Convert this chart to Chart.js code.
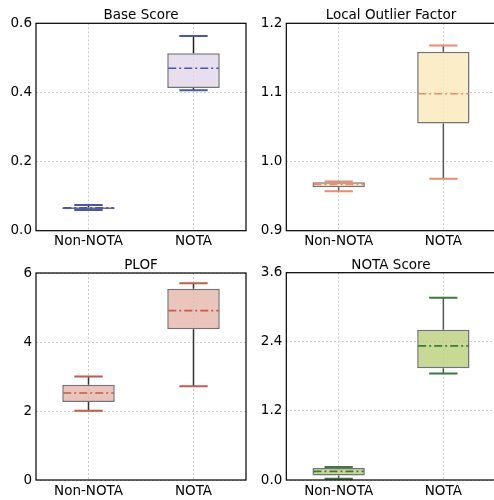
<!DOCTYPE html>
<html><head><meta charset="utf-8">
<script src="https://cdn.jsdelivr.net/npm/chart.js@4.4.0/dist/chart.umd.min.js"></script>
<style>
html,body{margin:0;padding:0;background:#fff;overflow:hidden;}
#wrap{position:relative;width:494px;height:500px;overflow:hidden;background:#fff;}
.cell{position:absolute;}
</style></head>
<body>
<div id="wrap">
  <div class="cell" style="left:0;top:0;"><canvas id="c0" width="247" height="250"></canvas></div>
  <div class="cell" style="left:247px;top:0;"><canvas id="c1" width="252" height="250"></canvas></div>
  <div class="cell" style="left:0;top:250px;"><canvas id="c2" width="247" height="250"></canvas></div>
  <div class="cell" style="left:247px;top:250px;"><canvas id="c3" width="252" height="250"></canvas></div>
</div>
<script>
// ---- data ----
const categories = ['Non-NOTA', 'NOTA'];
const titles = ['Base Score', 'Local Outlier Factor', 'PLOF', 'NOTA Score'];

// Base Score
const baseLow  = [0.060, 0.406];
const baseQ1   = [0.062, 0.413];
const baseMed  = [0.066, 0.470];
const baseQ3   = [0.068, 0.513];
const baseHigh = [0.074, 0.563];
const baseTicks = [0, 0.2, 0.4, 0.6];

// Local Outlier Factor
const lofLow  = [0.957, 0.975];
const lofQ1   = [0.963, 1.055];
const lofMed  = [0.967, 1.098];
const lofQ3   = [0.970, 1.159];
const lofHigh = [0.971, 1.168];
const lofTicks = [0.9, 1.0, 1.1, 1.2];

// PLOF
const plofLow  = [2.01, 2.72];
const plofQ1   = [2.26, 4.37];
const plofMed  = [2.52, 4.91];
const plofQ3   = [2.76, 5.54];
const plofHigh = [3.00, 5.70];
const plofTicks = [0, 2, 4, 6];

// NOTA Score
const notaLow  = [0.02, 1.85];
const notaQ1   = [0.08, 1.94];
const notaMed  = [0.15, 2.33];
const notaQ3   = [0.21, 2.61];
const notaHigh = [0.225, 3.166];
const notaTicks = [0.0, 1.2, 2.4, 3.6];

// ---- styling / layout ----
const FONT = {family: 'DejaVu Sans', size: 13.5};
const panels = [
  {id:'c0', title:titles[0], low:baseLow, q1:baseQ1, med:baseMed, q3:baseQ3, high:baseHigh, ticks:baseTicks, dec:1,
   fill:'rgba(225,215,234,0.8)', accent:'#4a57b0', whisk:'#222222', yW:36, xH:19.3, padR:1, padT:23.3},
  {id:'c1', title:titles[1], low:lofLow, q1:lofQ1, med:lofMed, q3:lofQ3, high:lofHigh, ticks:lofTicks, dec:1,
   fill:'rgba(249,232,186,0.8)', accent:'#ee8a6c', whisk:'#555555', yW:39.3, xH:19.3, padR:3.3, padT:23.3},
  {id:'c2', title:titles[2], low:plofLow, q1:plofQ1, med:plofMed, q3:plofQ3, high:plofHigh, ticks:plofTicks, dec:0,
   fill:'rgba(230,181,171,0.8)', accent:'#c85a4c', whisk:'#333333', yW:36, xH:20, padR:1, padT:23},
  {id:'c3', title:titles[3], low:notaLow, q1:notaQ1, med:notaMed, q3:notaQ3, high:notaHigh, ticks:notaTicks, dec:1,
   fill:'rgba(186,208,124,0.8)', accent:'#3f7a3c', whisk:'#555555', yW:39.3, xH:20, padR:3.3, padT:22.7}
];

const boxParts = {
  id: 'boxparts',
  afterDatasetsDraw(chart) {
    const o = chart.options.plugins.boxparts;
    const xs = chart.scales.x, ys = chart.scales.y, ctx = chart.ctx;
    const unit = xs.getPixelForValue(1) - xs.getPixelForValue(0);
    const half = unit * 0.25, capHalf = unit * 0.135;
    ctx.save();
    for (let i = 0; i < categories.length; i++) {
      const x = xs.getPixelForValue(i);
      const yl = ys.getPixelForValue(o.low[i]), yq1 = ys.getPixelForValue(o.q1[i]);
      const yq3 = ys.getPixelForValue(o.q3[i]), yh = ys.getPixelForValue(o.high[i]);
      const ym = ys.getPixelForValue(o.med[i]);
      ctx.strokeStyle = o.whisk; ctx.lineWidth = 1.5; ctx.setLineDash([]);
      ctx.beginPath(); ctx.moveTo(x, yq3); ctx.lineTo(x, yh); ctx.moveTo(x, yq1); ctx.lineTo(x, yl); ctx.stroke();
      ctx.strokeStyle = o.accent; ctx.lineWidth = 2;
      ctx.beginPath(); ctx.moveTo(x - capHalf, yh); ctx.lineTo(x + capHalf, yh);
      ctx.moveTo(x - capHalf, yl); ctx.lineTo(x + capHalf, yl); ctx.stroke();
      ctx.lineWidth = 1.6; ctx.setLineDash([8, 3, 2, 3]);
      ctx.beginPath(); ctx.moveTo(x - half + 1, ym); ctx.lineTo(x + half - 1, ym); ctx.stroke();
      ctx.setLineDash([]);
    }
    ctx.restore();
  }
};

const frameAndTitle = {
  id: 'frame',
  afterDraw(chart) {
    const a = chart.chartArea, ctx = chart.ctx;
    ctx.save(); ctx.strokeStyle = '#000'; ctx.lineWidth = 1.2; ctx.setLineDash([]);
    ctx.strokeRect(a.left, a.top, a.right - a.left, a.bottom - a.top);
    const t = chart.options.plugins.boxparts.title;
    ctx.fillStyle = '#000';
    ctx.font = FONT.size + 'px "' + FONT.family + '"';
    ctx.textAlign = 'center'; ctx.textBaseline = 'alphabetic';
    ctx.fillText(t, (a.left + a.right) / 2, a.top - 4);
    ctx.restore();
  }
};

panels.forEach(p => {
  const boxData = categories.map((c, i) => [p.q1[i], p.q3[i]]);
  new Chart(document.getElementById(p.id), {
    type: 'bar',
    data: {
      labels: categories,
      datasets: [{
        data: boxData,
        backgroundColor: p.fill,
        borderColor: 'rgba(90,90,90,0.85)',
        borderWidth: 1.5,
        borderSkipped: false,
        barPercentage: 0.5,
        categoryPercentage: 1.0
      }]
    },
    options: {
      responsive: false,
      animation: false,
      events: [],
      layout: {padding: {left: 0, right: p.padR, top: p.padT, bottom: 0}},
      plugins: {
        legend: {display: false},
        tooltip: {enabled: false},
        title: {display: false},
        boxparts: p
      },
      scales: {
        x: {
          type: 'category', offset: true,
          grid: {display: true, offset: false, drawTicks: false, color: '#cccccc', lineWidth: 1},
          border: {display: false, dash: [2, 2]},
          ticks: {color: '#000', font: FONT, padding: 3, maxRotation: 0},
          afterFit: s => { s.height = p.xH; }
        },
        y: {
          type: 'linear', min: p.ticks[0], max: p.ticks[p.ticks.length - 1],
          grid: {display: true, drawTicks: false, color: '#cccccc', lineWidth: 1},
          border: {display: false, dash: [2, 2]},
          ticks: {color: '#000', font: FONT, padding: 4, callback: v => Number(v).toFixed(p.dec)},
          afterBuildTicks: s => { s.ticks = p.ticks.map(v => ({value: v})); },
          afterFit: s => { s.width = p.yW; }
        }
      }
    },
    plugins: [boxParts, frameAndTitle]
  });
});
</script>
</body></html>
